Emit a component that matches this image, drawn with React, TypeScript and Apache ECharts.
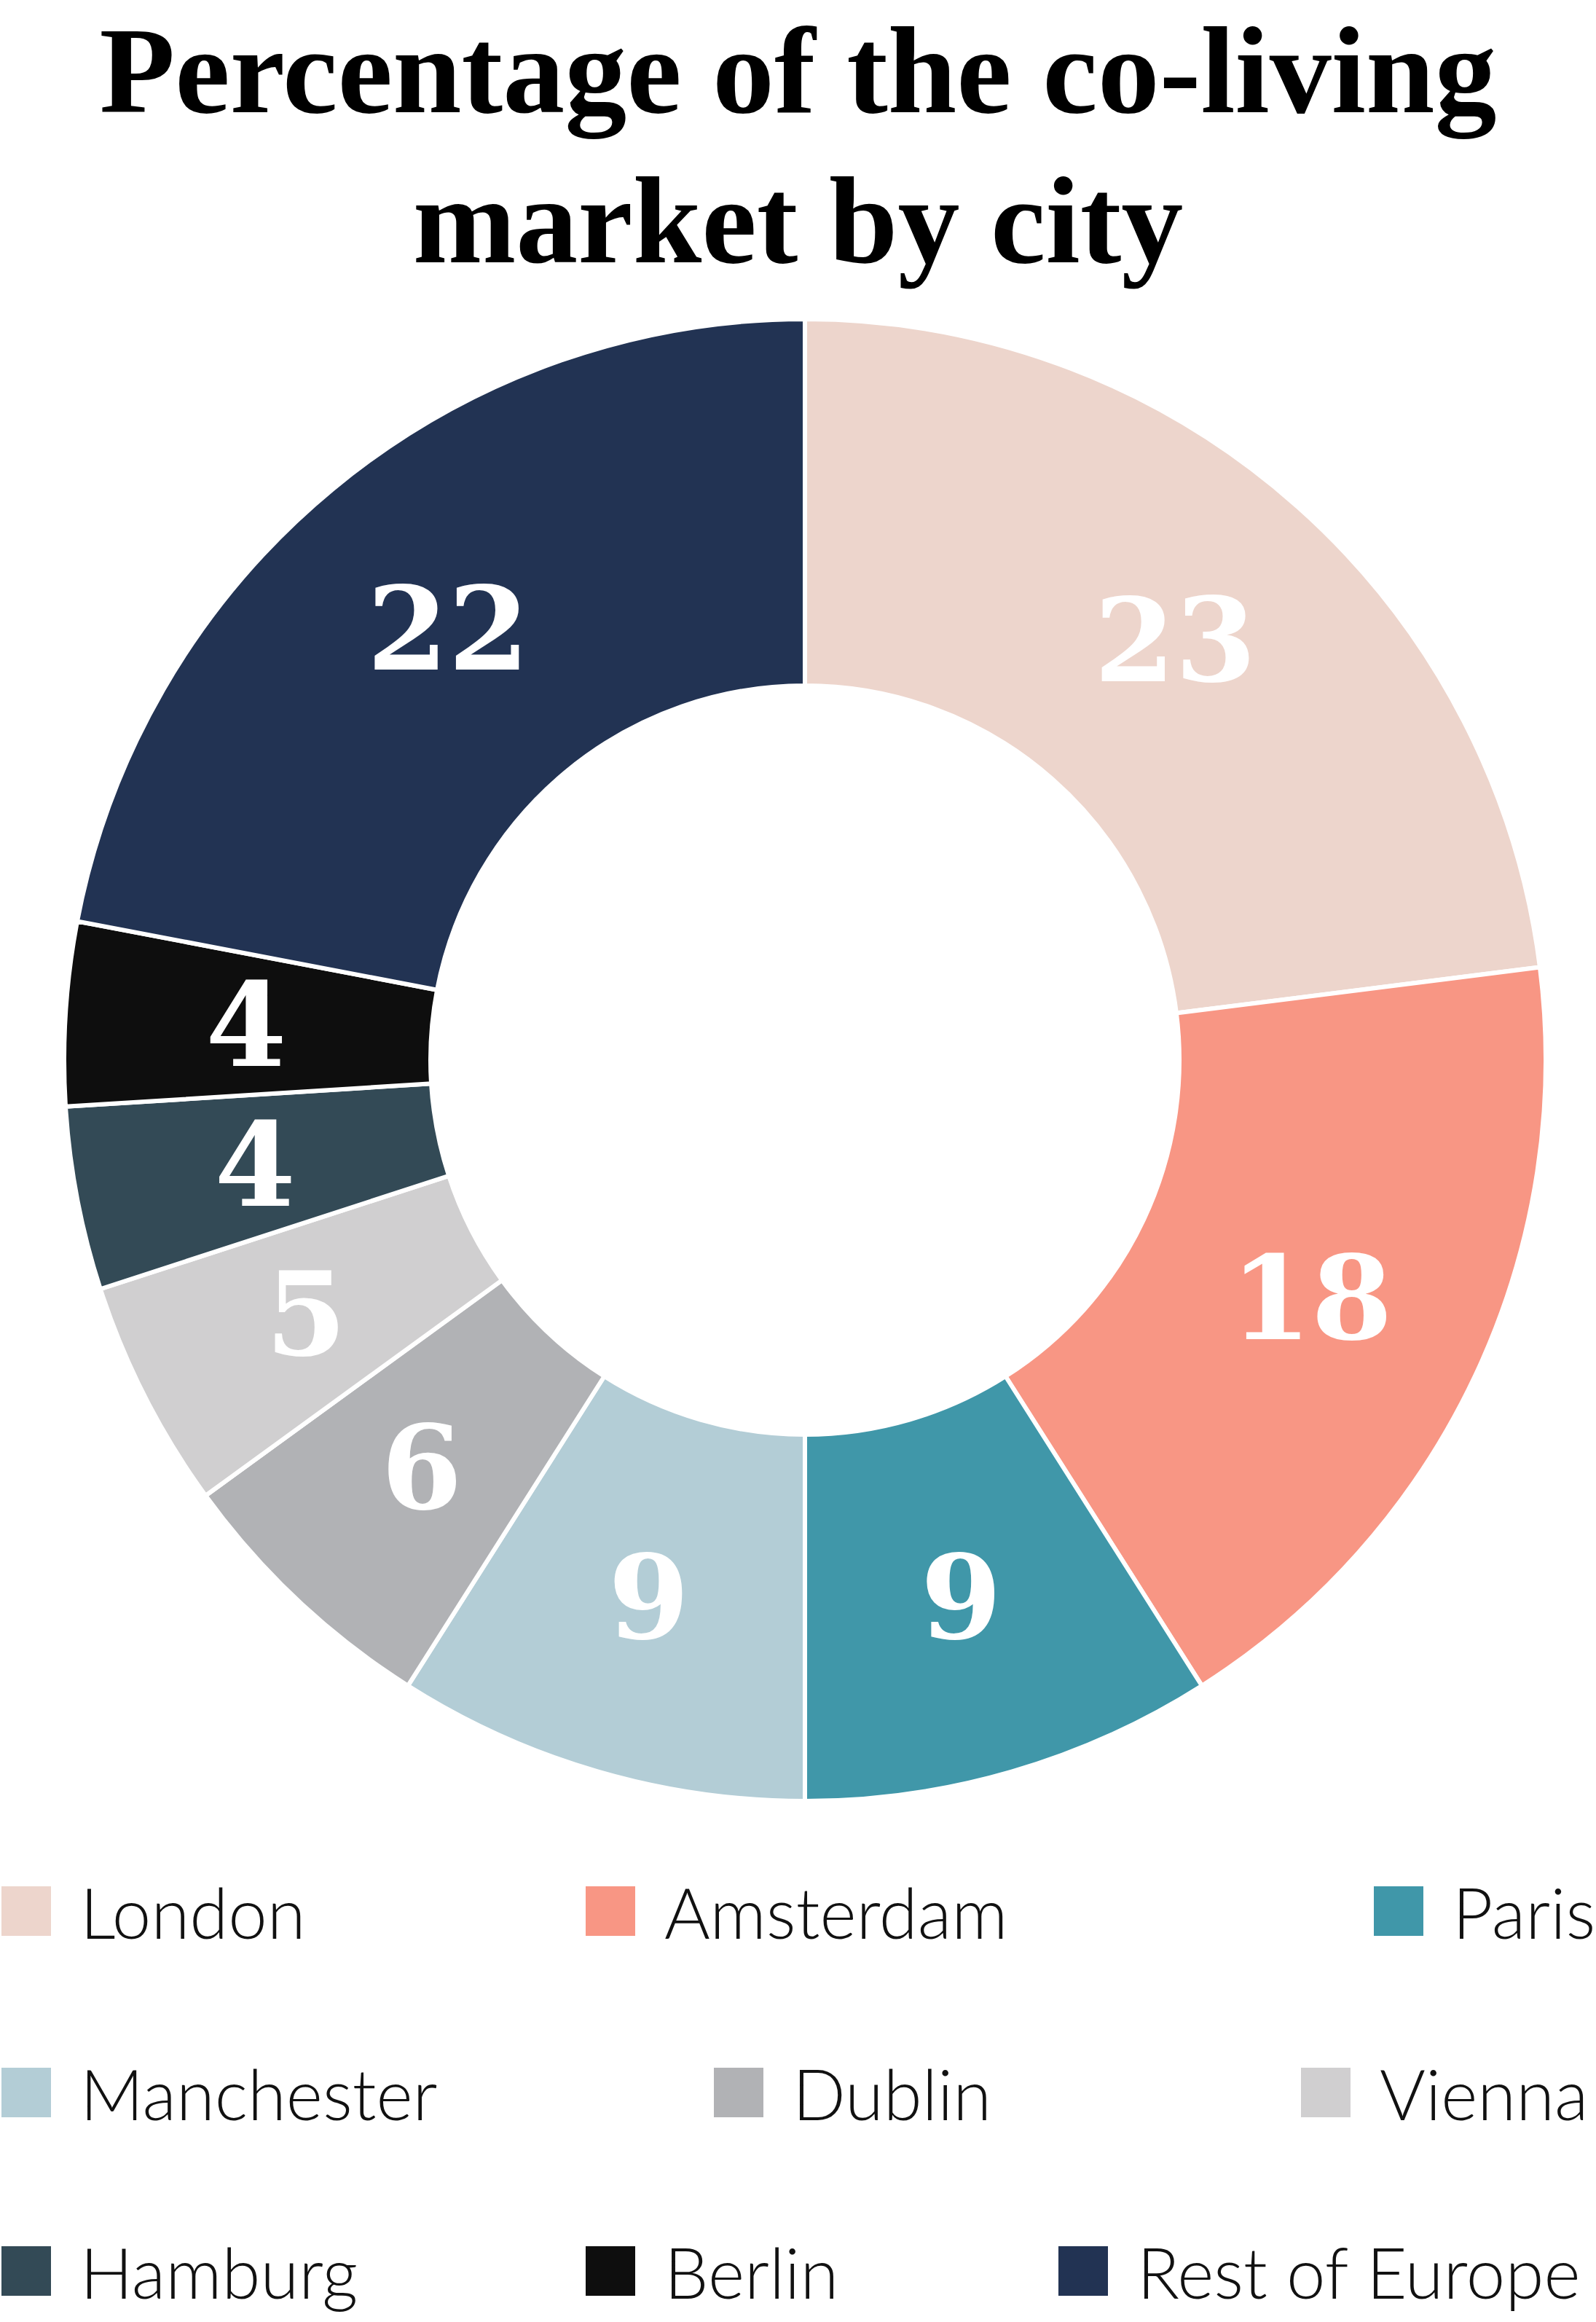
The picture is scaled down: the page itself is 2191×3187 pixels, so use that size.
import React, { useEffect, useRef } from "react";
import * as echarts from "echarts";

const cities = [
  "London",
  "Amsterdam",
  "Paris",
  "Manchester",
  "Dublin",
  "Vienna",
  "Hamburg",
  "Berlin",
  "Rest of Europe",
];
const shares = [23, 18, 9, 9, 6, 5, 4, 4, 22];
const palette = [
  "#EDD5CC",
  "#F89684",
  "#4097A9",
  "#B3CDD6",
  "#B1B2B5",
  "#D0CFD0",
  "#334A56",
  "#0E0E0E",
  "#223353",
];
const titleLines = ["Percentage of the co-living", "market by city"];
const titleTops = [10, 216];

// legend placement (left of square, top of square) per city
const legendLeft = [0, 802, 1884, 0, 978, 1784, 0, 802, 1451];
const legendTop = [2590, 2590, 2590, 2839, 2839, 2839, 3084, 3084, 3084];
const LEGEND_TEXT_OVERHANG = 15;

export default function App() {
  const ref = useRef<HTMLDivElement>(null);
  useEffect(() => {
    document.body.style.margin = "0";
    document.body.style.overflow = "hidden";
    const chart = echarts.init(ref.current!, null, { renderer: "svg" });
    const legends = cities.map((c, i) => ({
      data: [c],
      left: legendLeft[i],
      top: legendTop[i] - LEGEND_TEXT_OVERHANG,
      orient: "horizontal",
      padding: 0,
      icon: "rect",
      itemWidth: 70,
      itemHeight: 70,
      selectedMode: false,
      textStyle: {
        fontFamily: "Lato",
        fontWeight: 300,
        fontSize: 96,
        lineHeight: 70,
        color: "#111111",
        padding: [0, 0, 0, 34],
      },
    }));
    const titles = titleLines.map((t, i) => ({
      text: t,
      left: "center",
      top: titleTops[i],
      padding: 0,
      textStyle: {
        fontFamily: "Liberation Serif",
        fontWeight: "bold",
        fontSize: 170,
        lineHeight: 174,
        color: "#000000",
      },
    }));
    chart.setOption({
      animation: false,
      backgroundColor: "#ffffff",
      title: titles,
      legend: legends,
      series: [
        {
          type: "pie",
          center: [1105, 1455],
          radius: [514, 1017],
          startAngle: 90,
          clockwise: true,
          avoidLabelOverlap: false,
          itemStyle: { borderColor: "#ffffff", borderWidth: 6 },
          label: {
            show: true,
            position: "inside",
            formatter: "{c}",
            color: "#ffffff",
            fontFamily: "DejaVu Serif",
            fontWeight: "bold",
            fontSize: 160,
          },
          labelLine: { show: false },
          emphasis: { disabled: true },
          data: cities.map((c, i) => ({
            name: c,
            value: shares[i],
            itemStyle: { color: palette[i] },
          })),
        },
      ],
    });
    return () => chart.dispose();
  }, []);
  return <div ref={ref} style={{ width: 2191, height: 3187 }} />;
}
